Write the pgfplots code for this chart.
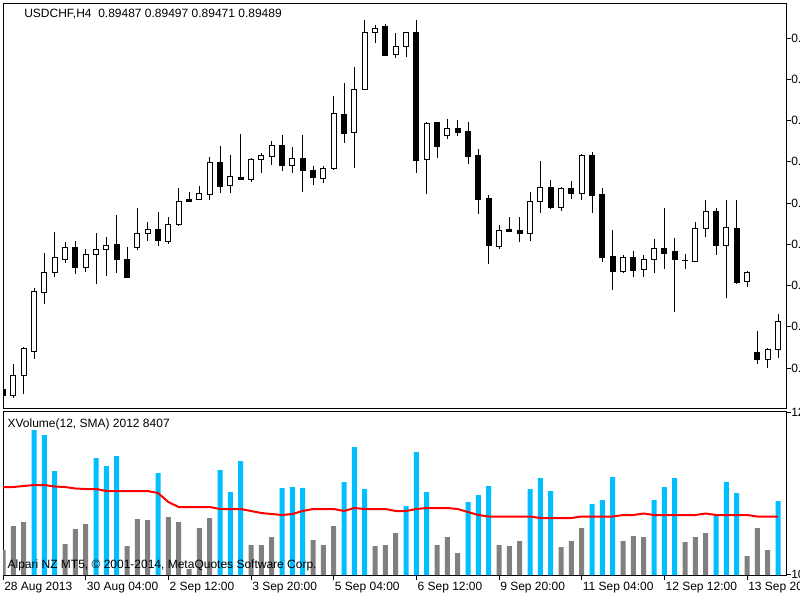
\documentclass[border=0pt]{standalone}
\usepackage{fontspec}
\setmainfont{Liberation Sans}
\usepackage{pgfplots}
\usepackage{pgfplotstable}
\pgfplotsset{compat=1.18}
\definecolor{vblue}{RGB}{0,191,255}
\definecolor{vgray}{RGB}{128,128,128}

% candle OHLC, read in screen pixels (smaller = higher price)
\pgfplotstableread{
i O H L C
0 389 388 396 395
1 395 364 397 375
2 375 347 393 348
3 351 288 358 291
4 292 253 303 272
5 272 232 276 257
6 259 242 262 247
7 247 241 273 267
8 267 249 271 254
9 254 233 283 249
10 249 237 275 245
11 244 215 272 259
12 259 247 277 277
13 247 208 249 233
14 233 222 240 229
15 229 212 245 240
16 241 217 243 224
17 224 188 225 201
18 199 192 201 201
19 199 186 199 193
20 194 157 199 162
21 162 146 192 186
22 185 155 192 176
23 177 134 179 179
24 179 158 181 159
25 159 153 172 155
26 156 141 164 145
27 145 135 170 165
28 165 147 172 158
29 158 135 191 170
30 170 166 184 177
31 178 166 182 168
32 168 96 169 113
33 114 83 142 133
34 132 67 167 89
35 89 20 89 32
36 32 25 42 28
37 26 24 55 55
38 54 33 57 46
39 46 32 56 32
40 32 20 172 160
41 159 122 193 123
42 122 122 157 146
43 135 119 138 128
44 128 120 135 132
45 131 122 163 156
46 155 149 213 199
47 198 195 263 245
48 246 225 248 230
49 229 217 231 231
50 230 217 241 233
51 233 192 240 201
52 201 161 212 187
53 187 180 208 207
54 207 187 210 188
55 188 181 198 193
56 193 154 199 155
57 155 152 212 195
58 194 188 261 257
59 256 230 289 271
60 271 255 272 257
61 257 251 276 270
62 269 255 276 259
63 259 239 272 248
64 248 208 268 253
65 251 238 311 259
66 260 254 268 260
67 261 222 261 228
68 228 200 236 211
69 211 208 254 245
70 245 200 297 227
71 228 200 283 282
72 281 271 286 272
73 352 331 363 359
74 359 348 367 349
75 349 314 357 321
}\candles

% volume (h), its SMA(12) (s), colour flag (b: 1 = above average)
\pgfplotstableread{
i h s b
0 25 88 0
1 49 88 0
2 53 89 0
3 145 90 1
4 140 90 1
5 104 88.5 1
6 31 88 0
7 46 86.5 0
8 51 86 0
9 117 86 1
10 109 84 1
11 119 84 1
12 29 84 0
13 56 84 0
14 55 84 0
15 102 82 1
16 58 73 0
17 53 68 0
18 6 68 0
19 47 68 0
20 57 68 0
21 105 66 1
22 83 66 1
23 114 66 1
24 30 64 0
25 30 62 0
26 38 61 0
27 87 60 1
28 88 61 1
29 87 64 1
30 35 66 0
31 30 66 0
32 49 66 0
33 93 64 1
34 128 67 1
35 86 66 1
36 29 66 0
37 30 66 0
38 42 64 0
39 69 64 1
40 123 66 1
41 83 67 1
42 30 67 0
43 38 67 0
44 22 66 0
45 73 63 1
46 80 60 1
47 89 58.5 1
48 30 58.5 0
49 29 58.5 0
50 34 58.5 0
51 86 58.5 1
52 97 57 1
53 84 57 1
54 28 57 0
55 34 57 0
56 47 58.5 0
57 71 58.5 1
58 75 58.5 1
59 98 58.5 1
60 34 60 0
61 39 60 0
62 38 61.5 0
63 75 60 1
64 88 60 1
65 97 60 1
66 33 60 0
67 38 60 0
68 42 61.5 0
69 61 60 1
70 93 60 1
71 82 60 1
72 19 60 0
73 47 58.5 0
74 25 58.5 0
75 74 58.5 1
}\volumes

\begin{document}
\begin{tikzpicture}[x=1pt,y=1pt,font=\fontsize{9}{11}\selectfont]
\fill[white] (0,0) rectangle (600,-450);

\pgfplotsset{
  mt/.style={
    scale only axis, width=587.25pt,
    xmin=0, xmax=75.774,
    axis line style={black, line width=0.75pt},
    tick style={black, line width=0.75pt},
    tick align=outside, major tick length=3.75pt,
    tick label style={font=\fontsize{9}{11}\selectfont},
    ytick pos=right, yticklabel pos=right,
    yticklabel style={anchor=west, inner sep=0pt},
  },
  candle/.style={only marks, mark=none, mark size=0pt,
    mark options={draw=none, fill=none}, forget plot,
    error bars/.cd, y dir=minus, y explicit, error mark=none,
    error bar style={#1}},
}

% price pane
\begin{axis}[mt,
  at={(2.25pt,-2.475pt)}, anchor=north west, height=303.75pt,
  ymin=3.3, ymax=408.3, y dir=reverse,
  xtick=\empty,
  ytick={38,79.25,120.5,161.75,203,244.25,285.5,326.75,368},
  yticklabels={0.9400,0.9370,0.9340,0.9310,0.9280,0.9250,0.9220,0.9190,0.9160},
]
\addplot[candle={black, line width=0.75pt}]
  table[x=i, y expr=\thisrow{L}+0.5, y error minus expr=\thisrow{L}-\thisrow{H}+1]{\candles};
\addplot[candle={black, line width=4.5pt}]
  table[x=i, y expr={max(\thisrow{O},\thisrow{C})+0.5},
        y error minus expr={abs(\thisrow{O}-\thisrow{C})+1}]{\candles};
\addplot[restrict expr to domain={\thisrow{O}-\thisrow{C}}{1.5:1000},
    candle={white, line width=3pt}]
  table[x=i, y expr=\thisrow{O}-0.5, y error minus expr=\thisrow{O}-\thisrow{C}-1]{\candles};
\end{axis}

% volume pane
\begin{axis}[mt,
  at={(2.25pt,-308.775pt)}, anchor=north west, height=122.475pt,
  ymin=0, ymax=163.3,
  xtick={0,8,16,24,32,40,48,56,64,72},
  xticklabels={28 Aug 2013,30 Aug 04:00,2 Sep 12:00,3 Sep 20:00,5 Sep 04:00,6 Sep 12:00,9 Sep 20:00,11 Sep 04:00,12 Sep 12:00,13 Sep 20:00},
  xtick pos=bottom,
  xticklabel style={anchor=base west, inner sep=0pt, xshift=0.75pt, yshift=-8pt},
  ytick={1,162.3},
  yticklabels={10,12846},
]
\addplot[ybar, bar width=3.75pt, bar shift=0pt, fill=vgray, draw=none,
  restrict expr to domain={\thisrow{b}}{-0.5:0.5}] table[x=i, y=h]{\volumes};
\addplot[ybar, bar width=3.75pt, bar shift=0pt, fill=vblue, draw=none,
  restrict expr to domain={\thisrow{b}}{0.5:1.5}] table[x=i, y=h]{\volumes};
\addplot[red, line width=1.5pt, mark=none] table[x=i, y=s]{\volumes};
\end{axis}

\node[anchor=base west, inner sep=0pt] at (18,-12.98) {USDCHF,H4\ \ 0.89487 0.89497 0.89471 0.89489};
\node[anchor=base west, inner sep=0pt] at (5.5,-320.5) {XVolume(12, SMA) 2012 8407};
\node[anchor=base west, inner sep=0pt] at (5.5,-426) {Alpari NZ MT5, \textcopyright{} 2001-2014, MetaQuotes Software Corp.};

\pgfresetboundingbox
\path[use as bounding box] (0,0) rectangle (600,-450);
\end{tikzpicture}
\end{document}
